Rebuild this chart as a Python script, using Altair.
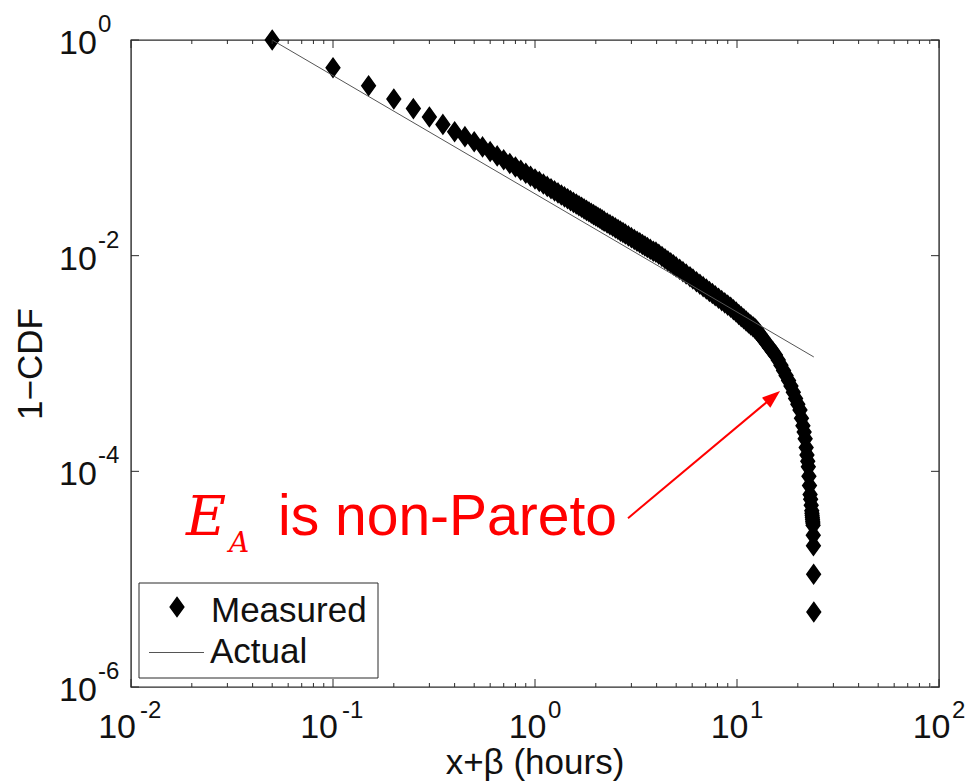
import altair as alt
import pandas as pd

# ---------------- data ----------------
measured_x = [0.05, 0.10, 0.15, 0.20, 0.25, 0.30, 0.35, 0.40, 0.45, 0.50,
              0.55, 0.60, 0.65, 0.70, 0.75, 0.80, 0.85, 0.90, 0.95, 1.00,
              1.05, 1.10, 1.15, 1.20, 1.25, 1.30, 1.40, 1.50, 1.60, 1.70,
              1.80, 1.90, 2.00, 2.10, 2.20, 2.35, 2.50, 2.65, 2.80, 3.00,
              3.20, 3.40, 3.60, 3.85, 4.10, 4.40, 4.70, 5.00, 5.40, 5.85,
              6.30, 6.80, 7.30, 7.80, 8.40, 9.00, 9.60, 10.2, 10.8, 11.4,
              12.0, 12.5, 13.0, 13.5, 14.0, 14.5, 15.0, 15.5, 16.0, 16.5,
              17.0, 17.5, 18.0, 18.5, 19.0, 19.5, 20.0, 20.5, 20.85, 21.2,
              21.5, 21.75, 22.0, 22.2, 22.4, 22.55, 22.7, 22.85, 23.0, 23.15,
              23.3, 23.45, 23.5, 23.55, 23.6, 23.65, 23.7, 23.75, 23.8, 23.85,
              23.9, 23.95, 24.0]
measured_y = [1.0, 0.553, 0.376, 0.284, 0.231, 0.193, 0.165, 0.141, 0.127, 0.114,
              0.102, 0.0923, 0.0842, 0.0774, 0.0716, 0.0665, 0.0620, 0.0581, 0.0546, 0.0515,
              0.0487, 0.0462, 0.0439, 0.0418, 0.0399, 0.0382, 0.0351, 0.0324, 0.0301, 0.0281,
              0.0263, 0.0247, 0.0233, 0.0221, 0.0209, 0.0194, 0.0181, 0.0169, 0.0159, 0.0147,
              0.0136, 0.0127, 0.0119, 0.0110, 0.0103, 0.00936, 0.00858, 0.00787, 0.00711, 0.00637,
              0.00574, 0.00516, 0.00466, 0.00425, 0.00383, 0.00348, 0.00315, 0.00285, 0.00260, 0.00237,
              0.00219, 0.00204, 0.00186, 0.00169, 0.00154, 0.00141, 0.00130, 0.00120, 0.00108, 0.000964,
              0.000863, 0.000772, 0.000694, 0.000617, 0.000542, 0.000474, 0.000419, 0.000370, 0.000311, 0.000265,
              0.000231, 0.000201, 0.000166, 0.000142, 0.000124, 0.000110, 0.0000900, 0.0000737, 0.0000610, 0.0000550,
              0.0000485, 0.0000432, 0.0000409, 0.0000392, 0.0000376, 0.0000360, 0.0000345, 0.0000331, 0.0000317, 0.0000256,
              0.0000204, 0.0000111, 0.00000497]

# further readings along the dense middle part of the band
measured_x_mid = [1.35, 1.45, 1.55, 1.65, 1.75, 1.85, 1.95, 2.05, 2.15, 2.275,
                  2.425, 2.575, 2.725, 2.9, 3.1, 3.3, 3.5, 3.72, 3.97, 4.25,
                  4.55, 4.85, 5.2, 5.6, 6.05, 6.55, 7.05, 7.55, 8.1, 8.7,
                  9.3, 9.9, 10.5, 11.1, 11.7, 12.25, 12.75]
measured_y_mid = [0.03655, 0.03368, 0.03121, 0.02906, 0.02717, 0.02550, 0.02401, 0.02267, 0.02147, 0.02012,
                  0.01872, 0.01747, 0.01638, 0.01526, 0.01413, 0.01316, 0.01230, 0.01148, 0.01078, 0.00983,
                  0.00895, 0.00822, 0.00748, 0.00676, 0.00608, 0.00544, 0.00491, 0.00446, 0.00403, 0.00365,
                  0.00332, 0.00300, 0.00272, 0.00248, 0.00228, 0.00212, 0.00195]

actual_x = [0.05, 24.0]
actual_y = [1.0, 0.00115]

xtick_major = [0.01, 0.1, 1, 10, 100]
xtick_exp = ["-2", "-1", "0", "1", "2"]
xtick_minor = [k * 10.0 ** e for e in range(-2, 2) for k in range(2, 10)]
ytick_major = [1e-6, 1e-4, 1e-2, 1]
ytick_exp = ["-6", "-4", "-2", "0"]

legend_labels = ["Measured", "Actual"]
annotation_text = "is non-Pareto"
arrow_x = [2.887, 15.09]      # from text end to the knee of the curve
arrow_y = [3.68e-5, 4.91e-4]

# ---------------- styling ----------------
FONT = "Liberation Sans"
AX = "#2b2b2b"
TXT = "#111111"
W, H = 808, 647
DIAMOND = "M0,-1L0.72,0L0,1L-0.72,0Z"
HEAD = "M0,-1L0.72,1L-0.72,1Z"
MSIZE = 361

xs = alt.Scale(type="log", domain=[0.01, 100], nice=False)
ys = alt.Scale(type="log", domain=[1e-6, 1], nice=False)


def X(f="x"):
    return alt.X(f"{f}:Q", scale=xs, axis=None)


def Y(f="y"):
    return alt.Y(f"{f}:Q", scale=ys, axis=None)


one = pd.DataFrame({"a": [0]})
meas = pd.DataFrame({"x": measured_x + measured_x_mid, "y": measured_y + measured_y_mid})
act = pd.DataFrame({"x": actual_x, "y": actual_y})
arrow = pd.DataFrame({"x": arrow_x, "y": arrow_y})
xmaj = pd.DataFrame({"v": xtick_major, "exp": xtick_exp,
                     "neg": [e.startswith("-") for e in xtick_exp]})
xmin = pd.DataFrame({"v": xtick_minor})
ymaj = pd.DataFrame({"v": ytick_major, "exp": ytick_exp})

marker = dict(shape=DIAMOND, size=MSIZE, filled=True, fill="black", stroke="black",
              strokeWidth=1.5, opacity=1, fillOpacity=1, strokeOpacity=1)

points = alt.Chart(meas).mark_point(**marker).encode(x=X(), y=Y())

fit = alt.Chart(act).mark_line(color="#555555", strokeWidth=1).encode(x=X(), y=Y())

# ticks (inward, mirrored)
tk = dict(color=AX, strokeWidth=1)
ticks = [
    alt.Chart(xmaj).mark_rule(**tk).encode(x=X("v"), y=alt.value(H), y2=alt.value(H - 8)),
    alt.Chart(xmin).mark_rule(**tk).encode(x=X("v"), y=alt.value(H), y2=alt.value(H - 4)),
    alt.Chart(xmaj).mark_rule(**tk).encode(x=X("v"), y=alt.value(0), y2=alt.value(8)),
    alt.Chart(xmin).mark_rule(**tk).encode(x=X("v"), y=alt.value(0), y2=alt.value(4)),
    alt.Chart(ymaj).mark_rule(**tk).encode(y=Y("v"), x=alt.value(0), x2=alt.value(8)),
    alt.Chart(ymaj).mark_rule(**tk).encode(y=Y("v"), x=alt.value(W), x2=alt.value(W - 8)),
]

# tick labels 10^k
ylab_base = alt.Chart(ymaj).mark_text(
    text="10", font=FONT, fontSize=34, align="left", baseline="alphabetic", dy=14, color=TXT
).encode(x=alt.value(-72), y=Y("v"))
ylab_exp = alt.Chart(ymaj).mark_text(
    font=FONT, fontSize=24, align="left", baseline="alphabetic", dy=-8, color=TXT
).encode(x=alt.value(-33), y=Y("v"), text="exp:N")

xneg = alt.Chart(xmaj).transform_filter("datum.neg")
xpos = alt.Chart(xmaj).transform_filter("!datum.neg")
xlab = [
    xneg.mark_text(text="10", font=FONT, fontSize=34, align="right", baseline="alphabetic",
                   dx=5, color=TXT).encode(x=X("v"), y=alt.value(H + 51)),
    xneg.mark_text(font=FONT, fontSize=24, align="left", baseline="alphabetic",
                   dx=9, color=TXT).encode(x=X("v"), y=alt.value(H + 31), text="exp:N"),
    xpos.mark_text(text="10", font=FONT, fontSize=34, align="right", baseline="alphabetic",
                   dx=11.5, color=TXT).encode(x=X("v"), y=alt.value(H + 51)),
    xpos.mark_text(font=FONT, fontSize=24, align="left", baseline="alphabetic",
                   dx=13, color=TXT).encode(x=X("v"), y=alt.value(H + 31), text="exp:N"),
]

# axis titles
ytitle = alt.Chart(one).mark_text(
    text="1−CDF", font=FONT, fontSize=35, angle=270, align="center", baseline="alphabetic", color=TXT
).encode(x=alt.value(-89), y=alt.value(324))
xtitle = alt.Chart(one).mark_text(
    text="x+β (hours)", font=FONT, fontSize=35, align="center", baseline="alphabetic", color=TXT
).encode(x=alt.value(W / 2), y=alt.value(734))

# legend
legend = [
    alt.Chart(one).mark_rect(fill="white", stroke=AX, strokeWidth=1).encode(
        x=alt.value(8), x2=alt.value(247), y=alt.value(543), y2=alt.value(638)),
    alt.Chart(one).mark_point(**marker).encode(x=alt.value(46), y=alt.value(567)),
    alt.Chart(one).mark_text(text=legend_labels[0], font=FONT, fontSize=35, align="left",
                             baseline="alphabetic", color=TXT).encode(x=alt.value(80), y=alt.value(582)),
    alt.Chart(one).mark_rule(color="#555555", strokeWidth=1).encode(
        x=alt.value(18), x2=alt.value(73), y=alt.value(612.5)),
    alt.Chart(one).mark_text(text=legend_labels[1], font=FONT, fontSize=35, align="left",
                             baseline="alphabetic", color=TXT).encode(x=alt.value(79), y=alt.value(623)),
]

# annotation
RED = "#ff0000"
annot = [
    alt.Chart(one).mark_text(text="E", font="DejaVu Serif", fontStyle="italic", fontSize=55,
                             align="left", baseline="alphabetic", color=RED).encode(
        x=alt.value(55), y=alt.value(495)),
    alt.Chart(one).mark_text(text="A", font="DejaVu Serif", fontStyle="italic", fontSize=28,
                             align="left", baseline="alphabetic", color=RED).encode(
        x=alt.value(98), y=alt.value(512)),
    alt.Chart(one).mark_text(text=annotation_text, font=FONT, fontSize=57, align="left",
                             baseline="alphabetic", color=RED).encode(
        x=alt.value(147), y=alt.value(495)),
    alt.Chart(arrow).mark_line(color=RED, strokeWidth=2).encode(x=X(), y=Y()),
    alt.Chart(arrow).transform_filter("datum.x > 10").mark_point(
        shape=HEAD, size=330, filled=True, color=RED, opacity=1, strokeWidth=0, angle=50
    ).encode(x=X(), y=Y()),
]

chart = alt.layer(
    points, fit, *ticks, ylab_base, ylab_exp, *xlab, ytitle, xtitle, *legend, *annot
).properties(
    width=W, height=H,
    padding={"left": 131, "top": 40, "right": 30, "bottom": 96},
    autosize=alt.AutoSizeParams(type="none"),
    background="white",
).configure_view(stroke=AX, strokeWidth=1.4)

chart.save("out.html", embed_options={"renderer": "svg", "actions": False})
